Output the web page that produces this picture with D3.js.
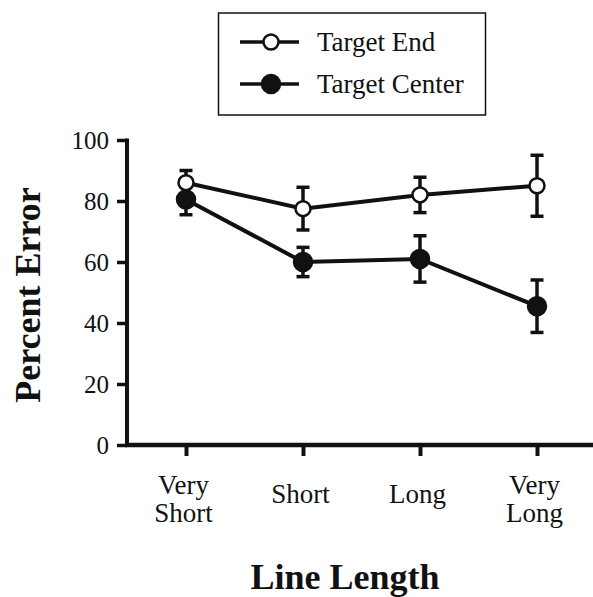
<!doctype html>
<meta charset="utf-8">
<title>Percent Error by Line Length</title>
<script src="https://cdn.jsdelivr.net/npm/d3@7"></script>
<style>
  body { margin: 0; background: #fff; }
</style>
<body>
<div id="chart"></div>
<script>

    var categories = ["Very Short", "Short", "Long", "Very Long"]
        , catLines = [["Very", "Short"], ["Short"], ["Long"], ["Very", "Long"]];

    var targetEnd = [86, 77.5, 82, 85]
        , targetEndErr = [4, 7, 5.8, 10];

    var targetCenter = [80.5, 60, 61, 45.5]
        , targetCenterErr = [5, 4.8, 7.6, 8.6];

    var yTicks = [0, 20, 40, 60, 80, 100];

    var width = 593, height = 597, ink = "#111"
        , serif = '"Liberation Serif", "Times New Roman", Times, serif';

    var svg = d3.select('#chart').append('svg')
            .attr('width', width)
            .attr('height', height)
            .style('font-family', serif);

    var x = d3.scalePoint().domain(categories).range([186, 537]);
    var y = d3.scaleLinear().domain([0, 100]).range([445, 140]);

    // y axis
    var yAxis = svg.append('g')
            .attr('transform', 'translate(127,0)')
            .call(d3.axisLeft(y).tickValues(yTicks).tickSize(10).tickSizeOuter(0).tickPadding(8));
    yAxis.attr('font-family', null).attr('font-size', null);
    yAxis.select('.domain').remove();
    yAxis.selectAll('.tick line').attr('stroke', ink).attr('stroke-width', 3.5);
    yAxis.selectAll('.tick text')
            .style('font-family', serif)
            .style('font-size', '25px')
            .attr('fill', ink);
    yAxis.append('line')
            .attr('x1', 0).attr('x2', 0)
            .attr('y1', y(100) - 1.5).attr('y2', y(0))
            .attr('stroke', ink).attr('stroke-width', 4);

    // x axis
    var xAxis = svg.append('g')
            .attr('transform', 'translate(0,' + y(0) + ')')
            .call(d3.axisBottom(x).tickSize(11).tickSizeOuter(0).tickFormat(''));
    xAxis.attr('font-family', null).attr('font-size', null);
    xAxis.select('.domain').remove();
    xAxis.selectAll('.tick line').attr('stroke', ink).attr('stroke-width', 4);
    xAxis.append('line')
            .attr('x1', 125).attr('x2', width)
            .attr('y1', 0).attr('y2', 0)
            .attr('stroke', ink).attr('stroke-width', 4.5);

    // category labels (one or two lines)
    xAxis.selectAll('g.tick').each(function(d, i) {
        var lines = catLines[i];
        var t = d3.select(this).append('text')
                .attr('text-anchor', 'middle')
                .attr('x', -3)
                .style('font-family', serif)
                .style('font-size', '27px')
                .attr('fill', ink);
        if (lines.length === 1) {
            t.append('tspan').attr('x', -3).attr('y', 58).text(lines[0]);
        } else {
            t.append('tspan').attr('x', -3).attr('y', 49).text(lines[0]);
            t.append('tspan').attr('x', -3).attr('y', 77).text(lines[1]);
        }
    });

    // axis titles
    svg.append('text')
            .attr('transform', 'translate(40,295) rotate(-90)')
            .attr('text-anchor', 'middle')
            .style('font-family', serif)
            .style('font-size', '36px')
            .style('font-weight', 'bold')
            .attr('fill', ink)
            .text('Percent Error');

    svg.append('text')
            .attr('x', 345).attr('y', 589)
            .attr('text-anchor', 'middle')
            .style('font-family', serif)
            .style('font-size', '36px')
            .style('font-weight', 'bold')
            .attr('fill', ink)
            .text('Line Length');

    // series
    var series = [
        { name: 'Target Center', values: targetCenter, err: targetCenterErr, fill: ink, r: 9 },
        { name: 'Target End', values: targetEnd, err: targetEndErr, fill: '#fff', r: 7.5 }
    ];

    var line = d3.line()
            .x(function(d) { return x(d.cat) })
            .y(function(d) { return y(d.v) });

    series.forEach(function(s) {
        var pts = categories.map(function(c, i) { return { cat: c, v: s.values[i], e: s.err[i] } });
        var g = svg.append('g');

        var eb = g.selectAll('g.err').data(pts).enter().append('g').classed('err', true)
                .attr('stroke', ink).attr('stroke-width', 3.5);
        eb.append('line')
                .attr('x1', function(d) { return x(d.cat) })
                .attr('x2', function(d) { return x(d.cat) })
                .attr('y1', function(d) { return y(d.v + d.e) })
                .attr('y2', function(d) { return y(d.v - d.e) });
        [1, -1].forEach(function(sign) {
            eb.append('line')
                    .attr('x1', function(d) { return x(d.cat) - 6.5 })
                    .attr('x2', function(d) { return x(d.cat) + 6.5 })
                    .attr('y1', function(d) { return y(d.v + sign * d.e) })
                    .attr('y2', function(d) { return y(d.v + sign * d.e) });
        });

        g.append('path')
                .datum(pts)
                .attr('d', line)
                .attr('fill', 'none')
                .attr('stroke', ink)
                .attr('stroke-width', 4);

        g.selectAll('circle').data(pts).enter().append('circle')
                .attr('cx', function(d) { return x(d.cat) })
                .attr('cy', function(d) { return y(d.v) })
                .attr('r', s.r)
                .attr('fill', s.fill)
                .attr('stroke', ink)
                .attr('stroke-width', 2.5);
    });

    // legend
    var legend = svg.append('g');
    legend.append('rect')
            .attr('x', 218.5).attr('y', 13)
            .attr('width', 267).attr('height', 102)
            .attr('fill', 'none')
            .attr('stroke', ink)
            .attr('stroke-width', 1.5);

    var legendItems = [series[1], series[0]];
    legendItems.forEach(function(s, i) {
        var ly = 42 + i * 42;
        legend.append('line')
                .attr('x1', 240).attr('x2', 299)
                .attr('y1', ly).attr('y2', ly)
                .attr('stroke', ink).attr('stroke-width', 3.5);
        legend.append('circle')
                .attr('cx', 271).attr('cy', ly)
                .attr('r', s.r)
                .attr('fill', s.fill)
                .attr('stroke', ink)
                .attr('stroke-width', 2.5);
        legend.append('text')
                .attr('x', 317).attr('y', ly + 9)
                .style('font-family', serif)
                .style('font-size', '27px')
                .attr('fill', ink)
                .text(s.name);
    });

</script>
</body>
